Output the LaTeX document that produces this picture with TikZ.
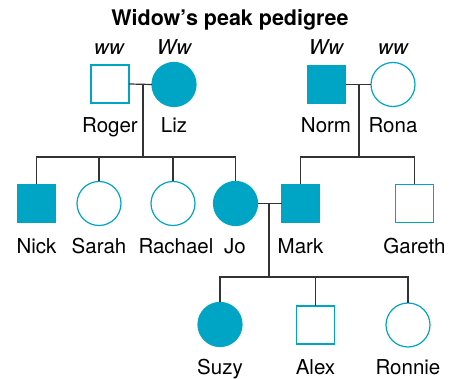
\documentclass[tikz,border=0pt]{standalone}
\usepackage{fontspec}
\setmainfont{TeX Gyre Heros}
\definecolor{teal1}{RGB}{0,164,196}
\begin{document}
\begin{tikzpicture}[x=1pt,y=-1pt,
  sq/.style={draw=teal1,line width=1.2pt,minimum size=38pt,inner sep=0pt,outer sep=0pt,rectangle},
  ci/.style={draw=teal1,line width=1.2pt,minimum size=44pt,inner sep=0pt,outer sep=0pt,circle},
  aff/.style={fill=teal1},
  lbl/.style={anchor=base,font=\fontsize{20.5}{24}\selectfont,inner sep=0pt},
  gt/.style={anchor=base,font=\fontsize{20.5}{24}\selectfont\itshape,inner sep=0pt},
  ln/.style={draw=black!80,line width=1.2pt}]
\useasboundingbox (0,0) rectangle (450,379);
\node[anchor=base,font=\fontsize{21.5}{25}\selectfont\bfseries,inner sep=0pt] (title) at (230,26) {Widow’s peak pedigree};
% generation 1
\node[sq] (roger) at (110,84) {};
\node[ci,aff] (liz) at (174,84.5) {};
\node[sq,aff] (norm) at (326.5,84.5) {};
\node[ci] (rona) at (393,84.5) {};
\node[gt] (gtroger) at (109,55) {ww};
\node[gt] (gtliz) at (174,55) {Ww};
\node[gt] (gtnorm) at (326,55) {Ww};
\node[gt] (gtrona) at (393,55) {ww};
\node[lbl] (lroger) at (110,133) {Roger};
\node[lbl] (lliz) at (174,133) {Liz};
\node[lbl] (lnorm) at (326,133) {Norm};
\node[lbl] (lrona) at (393,133) {Rona};
% generation 2
\node[sq,aff] (nick) at (36.5,203.5) {};
\node[ci] (sarah) at (99,203.5) {};
\node[ci] (rachael) at (173,203.5) {};
\node[ci,aff] (jo) at (235.5,203.5) {};
\node[sq,aff] (mark) at (300.5,203.5) {};
\node[sq] (gareth) at (414.5,203.5) {};
\node[lbl] (lnick) at (36.5,254) {Nick};
\node[lbl] (lsarah) at (99,254) {Sarah};
\node[lbl] (lrachael) at (176,254) {Rachael};
\node[lbl] (ljo) at (235,254) {Jo};
\node[lbl] (lmark) at (300.5,254) {Mark};
\node[lbl] (lgareth) at (414.5,254) {Gareth};
% generation 3
\node[ci,aff] (suzy) at (220,324.5) {};
\node[sq] (alex) at (315.5,325) {};
\node[ci] (ronnie) at (408,325) {};
\node[lbl] (lsuzy) at (220,374) {Suzy};
\node[lbl] (lalex) at (315.5,374) {Alex};
\node[lbl] (lronnie) at (408,374) {Ronnie};
% coordinates
\coordinate (m1) at (143,84);
\coordinate (b1) at (143,157);
\coordinate (m2) at (359,84.5);
\coordinate (b2) at (359,157);
\coordinate (m3) at (269,203.5);
\coordinate (b3) at (269,277);
% connectors
\draw[ln] (roger.east) -- (liz.west);
\draw[ln] (m1) -- (b1);
\draw[ln] (nick.north) |- (b1) -| (jo.north);
\draw[ln] (sarah.north) -- (sarah.north |- b1);
\draw[ln] (rachael.north) -- (rachael.north |- b1);
\draw[ln] (norm.east) -- (rona.west);
\draw[ln] (m2) -- (b2);
\draw[ln] (mark.north) |- (b2) -| (gareth.north);
\draw[ln] (jo.east) -- (mark.west);
\draw[ln] (m3) -- (b3);
\draw[ln] (suzy.north) |- (b3) -| (ronnie.north);
\draw[ln] (alex.north) -- (alex.north |- b3);
\end{tikzpicture}
\end{document}
